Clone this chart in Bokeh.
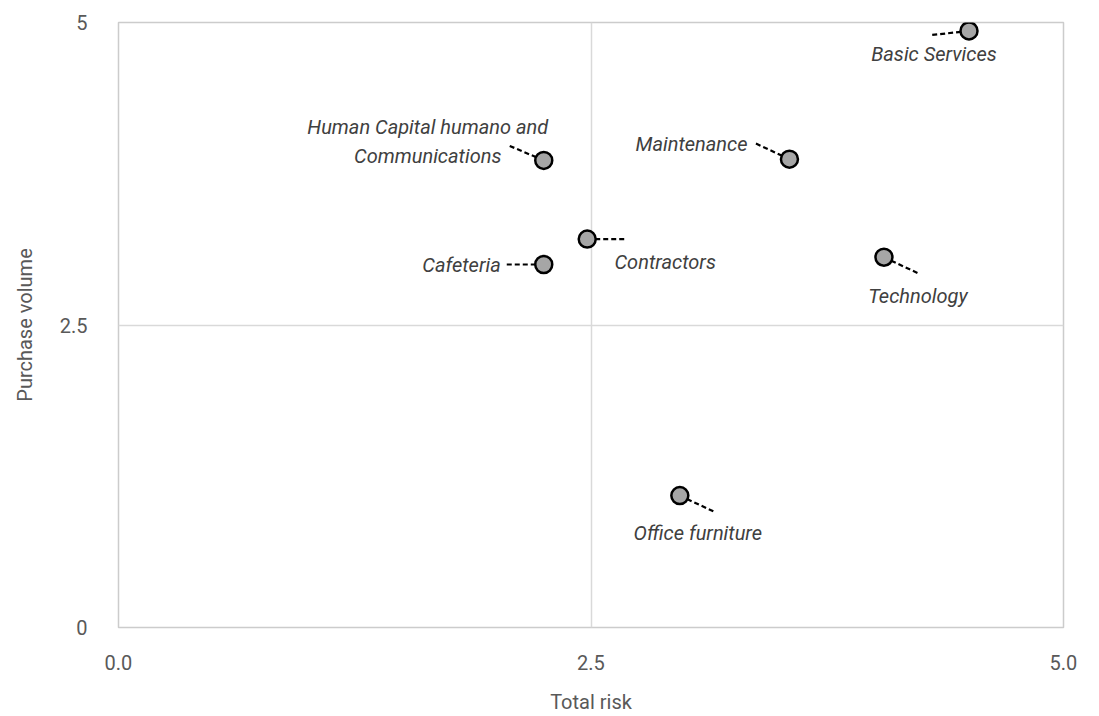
from bokeh.plotting import figure
from bokeh.models import ColumnDataSource, FixedTicker, Range1d, CustomJSTickFormatter, PrintfTickFormatter
from bokeh.core.properties import value
from bokeh.embed import file_html
from bokeh.resources import INLINE

# ---- data ----
categories = ["Basic Services", "Human Capital humano and\nCommunications", "Maintenance",
              "Contractors", "Cafeteria", "Technology", "Office furniture"]
total_risk = [4.50, 2.25, 3.55, 2.48, 2.25, 4.05, 2.97]
purchase_volume = [4.93, 3.86, 3.87, 3.21, 3.00, 3.06, 1.09]
x_ticks = [0, 2.5, 5]
y_ticks = [0, 2.5, 5]

# ---- style: label placement (screen pixels relative to point, +y down) ----
leader_dx = [-37, -35, -34, 38, -37, 34, 34]
leader_dy = [-4, 15, 16, 0, 0, -16, -16]   # data-direction (+ up)
label_dx = [-35, -116, -42, 78, -43, 34, 18]
label_dy = [23, -19, -15, 23, 0, 39, 37]
label_align = ["center", "center", "right", "center", "right", "center", "center"]

W, H = 1099, 716
L, R, T, B = 118, 36, 22, 87
fw, fh = W - L - R, H - T - B
ppx = fw / 5.0
ppy = fh / 5.0

x_end = [x + dx / ppx for x, dx in zip(total_risk, leader_dx)]
y_end = [y + dy / ppy for y, dy in zip(purchase_volume, leader_dy)]

src = ColumnDataSource(dict(x=total_risk, y=purchase_volume, xe=x_end, ye=y_end,
                            name=categories, lx=label_dx, ly=label_dy, al=label_align))

p = figure(width=W, height=H, output_backend="svg", toolbar_location=None,
           x_range=Range1d(0, 5), y_range=Range1d(0, 5),
           min_border_left=L, min_border_right=R, min_border_top=T, min_border_bottom=B)
p.outline_line_color = "#cccccc"
p.outline_line_width = 1.5

FONT = "Roboto"
for ax in (p.xaxis[0], p.yaxis[0]):
    ax.axis_line_color = None
    ax.major_tick_line_color = None
    ax.minor_tick_line_color = None
    ax.major_label_text_font = FONT
    ax.major_label_text_font_size = "20px"
    ax.major_label_text_color = "#595959"
    ax.axis_label_text_font = FONT
    ax.axis_label_text_font_size = "20px"
    ax.axis_label_text_color = "#595959"
    ax.axis_label_text_font_style = "normal"

p.xaxis.ticker = FixedTicker(ticks=x_ticks)
p.yaxis.ticker = FixedTicker(ticks=y_ticks)
p.xaxis.formatter = PrintfTickFormatter(format="%.1f")
p.yaxis.formatter = CustomJSTickFormatter(code="return tick.toString();")
p.xaxis.axis_label = "Total risk"
p.yaxis.axis_label = "Purchase volume"
p.xaxis.major_label_standoff = 21
p.yaxis.major_label_standoff = 25
p.xaxis.axis_label_standoff = 17
p.yaxis.axis_label_standoff = 20

p.xgrid.ticker = FixedTicker(ticks=[2.5])
p.ygrid.ticker = FixedTicker(ticks=[2.5])
p.xgrid.grid_line_color = "#d9d9d9"
p.ygrid.grid_line_color = "#d9d9d9"
p.xgrid.grid_line_width = 1.5
p.ygrid.grid_line_width = 1.5

p.segment(x0="x", y0="y", x1="xe", y1="ye", source=src, line_color="black",
          line_width=2.2, line_dash="5 3")
p.scatter(x="x", y="y", source=src, size=17, fill_color="#a6a6a6",
          line_color="black", line_width=2.5)
p.text(x="x", y="y", text="name", source=src, x_offset="lx", y_offset="ly",
       text_align="al", text_baseline="middle", text_font=value(FONT),
       text_font_style="italic", text_font_size="20px", text_color="#404040",
       text_line_height=1.2)

open("out.html", "w").write(file_html(p, INLINE))
